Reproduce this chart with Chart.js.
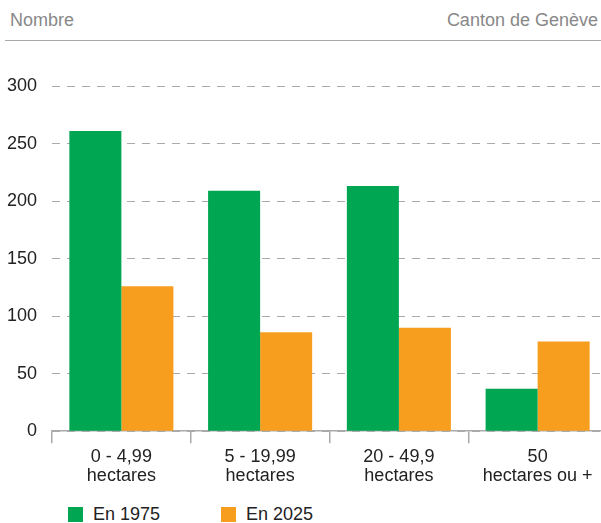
<!DOCTYPE html>
<html>
<head>
<meta charset="utf-8">
<script src="https://cdn.jsdelivr.net/npm/chart.js@4"></script>
<style>
  body { margin: 0; width: 601px; height: 523px; overflow: hidden; position: relative; background: #fff;
         font-family: "Liberation Sans", Arial, sans-serif; }
  #head { position: absolute; left: 5px; top: 0; width: 596px; height: 40px; border-bottom: 1px solid #aaa; color: #888; font-size: 18px; }
  #head .l { position: absolute; left: 5px; top: 10px; }
  #head .r { position: absolute; right: 3px; top: 10px; }
  #chart { position: absolute; left: 0; top: 0; }
  #legend { position: absolute; left: 68px; top: 504px; font-size: 18px; color: #222; }
  #legend span.item { position: absolute; white-space: nowrap; }
  #legend i { display: inline-block; width: 15px; height: 15px; vertical-align: -2px; margin-right: 10px; }
</style>
</head>
<body>
<div id="head"><span class="l">Nombre</span><span class="r">Canton de Genève</span></div>
<canvas id="chart" width="607" height="489"></canvas>
<div id="legend"></div>
<script>
const categories = [['0 - 4,99', 'hectares'], ['5 - 19,99', 'hectares'], ['20 - 49,9', 'hectares'], ['50', 'hectares ou +']];
const seriesNames = ['En 1975', 'En 2025'];
const values1975 = [261, 209, 213, 37];
const values2025 = [126, 86, 90, 78];
const colors = ['#00a651', '#f79e1f'];
const yTicks = [0, 50, 100, 150, 200, 250, 300];

document.addEventListener('DOMContentLoaded', () => {
    const data = {
        labels: categories,
        datasets: [values1975, values2025].map((vals, i) => ({
            label: seriesNames[i],
            data: vals,
            backgroundColor: colors[i],
            borderWidth: 0,
            barPercentage: 1.0,
            categoryPercentage: 0.75
        }))
    };

    const config = {
        type: 'bar',
        data: data,
        options: {
            responsive: false,
            animation: false,
            layout: { padding: { left: 0, right: 0, top: 86, bottom: 0 } },
            plugins: {
                legend: { display: false },
                tooltip: { enabled: false }
            },
            scales: {
                x: {
                    grid: {
                        offset: true,
                        drawOnChartArea: false,
                        drawTicks: true,
                        tickLength: 12,
                        color: '#aaa',
                        lineWidth: 1.5
                    },
                    border: { color: '#aaa', width: 1.5 },
                    ticks: {
                        color: '#222',
                        font: { family: 'Liberation Sans', size: 18, lineHeight: 1.05 },
                        padding: 4,
                        maxRotation: 0
                    }
                },
                y: {
                    min: 0,
                    max: 300,
                    afterBuildTicks: (axis) => { axis.ticks = yTicks.map(v => ({ value: v })); },
                    afterFit: (axis) => { axis.width = 52; },
                    grid: {
                        drawTicks: false,
                        color: '#aaa',
                        lineWidth: 1
                    },
                    border: { display: false, dash: [8, 7] },
                    ticks: {
                        color: '#222',
                        font: { family: 'Liberation Sans', size: 18 },
                        padding: 15
                    }
                }
            }
        }
    };

    const ctx = document.getElementById('chart').getContext('2d');
    const chart = new Chart(ctx, config);

    const legend = document.getElementById('legend');
    seriesNames.forEach((name, i) => {
        const item = document.createElement('span');
        item.className = 'item';
        item.style.left = (i * 153) + 'px';
        item.innerHTML = '<i style="background:' + colors[i] + '"></i>' + name;
        legend.appendChild(item);
    });
});
</script>
</body>
</html>
